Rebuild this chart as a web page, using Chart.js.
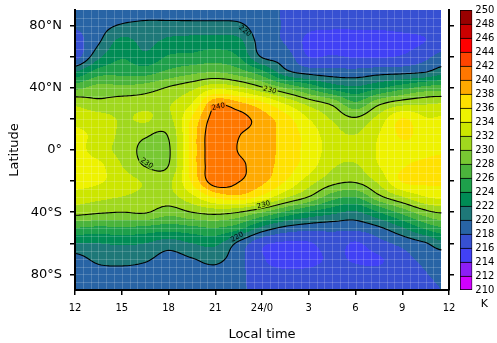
<!DOCTYPE html>
<html>
<head>
<meta charset="utf-8">
<script src="https://cdn.jsdelivr.net/npm/chart.js@4.4.1/dist/chart.umd.min.js"></script>
<style>
    body { margin: 0; background: #fff; }
    #wrap { position: relative; width: 497px; height: 343px; }
    #mainChart { position: absolute; left: 0; top: 0; }
    #barChart { position: absolute; left: 452px; top: 0; }
</style>
</head>
<body>
<div id="wrap">
    <canvas id="mainChart" width="497" height="343"></canvas>
    <canvas id="barChart" width="45" height="343"></canvas>
</div>
<script>
// --- Data ---
const localTimes = [12, 13.5, 15, 16.5, 18, 19.5, 21, 22.5, 24, 25.5, 27, 28.5, 30, 31.5, 33, 34.5, 35.5];
const latitudes = [90, 80, 70, 60, 50, 40, 30, 20, 10, 0, -10, -20, -30, -40, -50, -60, -70, -80, -90];

// temperature (K), one row per latitude, one column per local time
const temperature = [
    [218.8, 218.8, 219.0, 219.0, 219.0, 219.0, 219.0, 219.0, 218.6, 217.8, 217.0, 217.0, 217.0, 217.0, 217.0, 217.1, 217.2],
    [218.2, 219.2, 220.2, 220.5, 220.6, 220.6, 220.6, 220.4, 218.8, 217.8, 216.5, 216.3, 216.3, 216.3, 216.5, 216.7, 217.0],
    [217.2, 219.7, 222.6, 221.4, 222.5, 222.8, 223.0, 222.5, 219.0, 217.8, 215.5, 215.2, 215.2, 215.3, 215.5, 216.0, 217.2],
    [217.2, 221.5, 223.8, 222.5, 224.2, 224.5, 225.0, 224.0, 219.8, 219.0, 216.0, 216.2, 215.8, 215.8, 216.2, 217.5, 218.6],
    [222.1, 225.0, 225.4, 225.2, 226.5, 227.5, 228.0, 227.0, 224.7, 220.7, 219.3, 218.9, 218.8, 219.3, 219.5, 220.0, 221.2],
    [227.4, 228.8, 228.5, 229.0, 230.2, 231.5, 233.5, 232.5, 230.3, 227.9, 225.6, 223.3, 222.4, 223.7, 225.3, 226.7, 227.0],
    [231.5, 230.5, 231.0, 231.2, 231.8, 234.0, 239.5, 238.5, 236.5, 233.8, 231.3, 229.5, 226.4, 229.5, 231.2, 231.7, 232.0],
    [233.5, 233.0, 231.8, 232.3, 231.5, 236.3, 241.0, 240.8, 239.0, 236.8, 234.0, 231.8, 230.3, 232.8, 236.1, 234.2, 234.3],
    [234.3, 233.5, 231.5, 230.3, 230.2, 236.8, 241.5, 240.1, 239.0, 237.2, 235.2, 232.8, 232.0, 234.0, 236.3, 235.2, 235.0],
    [234.8, 233.0, 231.3, 229.5, 229.7, 236.8, 241.5, 239.9, 239.0, 237.2, 235.3, 233.2, 232.7, 234.2, 235.3, 235.6, 235.8],
    [235.0, 234.5, 232.0, 229.9, 230.0, 236.8, 241.5, 240.4, 239.0, 237.0, 235.0, 232.3, 231.8, 234.0, 235.8, 236.3, 236.4],
    [235.0, 234.3, 233.0, 231.8, 231.5, 236.3, 241.3, 240.1, 238.5, 236.0, 233.0, 230.8, 230.3, 232.5, 236.2, 236.4, 236.4],
    [233.0, 232.5, 232.0, 231.5, 231.3, 233.5, 236.5, 237.5, 235.5, 232.5, 230.0, 227.0, 226.1, 229.5, 232.0, 234.0, 234.5],
    [230.8, 230.3, 230.0, 230.2, 228.8, 230.0, 230.7, 230.0, 228.1, 225.7, 223.8, 222.6, 221.7, 224.0, 226.7, 229.3, 230.2],
    [226.0, 225.6, 225.8, 225.5, 225.0, 225.5, 226.0, 224.8, 221.5, 219.5, 218.8, 218.6, 218.6, 219.7, 221.9, 224.5, 225.8],
    [221.9, 222.0, 222.3, 222.0, 221.0, 222.0, 222.5, 219.5, 216.5, 215.7, 215.8, 217.0, 215.8, 217.3, 218.6, 219.8, 221.3],
    [219.3, 220.5, 220.7, 220.3, 219.3, 219.9, 220.6, 218.7, 216.2, 215.3, 215.4, 216.3, 215.8, 215.8, 217.3, 218.5, 218.8],
    [218.7, 219.2, 219.3, 219.2, 218.9, 219.0, 219.2, 218.5, 216.8, 216.4, 216.5, 216.8, 216.6, 216.6, 217.0, 217.9, 218.3],
    [218.5, 218.8, 218.8, 218.8, 218.7, 218.8, 218.9, 218.4, 217.2, 217.0, 217.0, 217.0, 217.0, 217.0, 217.2, 217.6, 218.0]
];

const levels = [210, 212, 214, 216, 218, 220, 222, 224, 226, 228, 230, 232, 234, 236, 238, 240, 242, 244, 246, 248, 250];
const levelColors = [
    '#d200ff', '#8c1ef5', '#4141f5', '#3750d2', '#2864a5', '#1e7878', '#008c55', '#1ea04b', '#4bb43c', '#78c832',
    '#a0d81e', '#cce600', '#eef200', '#ffe100', '#ffaa00', '#ff7700', '#ff4400', '#ff0000', '#cc0000', '#990000'
];
const contourLevels = [220, 230, 240];

const timeTicks = [12, 15, 18, 21, 24, 27, 30, 33, 36];
const timeTickLabels = ['12', '15', '18', '21', '24/0', '3', '6', '9', '12'];
const latTicks = [-80, -60, -40, -20, 0, 20, 40, 60, 80];
const latTickLabels = ['80°S', '', '40°S', '', '0°', '', '40°N', '', '80°N'];

// where the contour values are written (local time, latitude, angle)
const contourLabels = [
    { text: '220', t: 22.9, lat: 76.5, angle: 40 },
    { text: '230', t: 24.5, lat: 38.5, angle: 15 },
    { text: '240', t: 21.2, lat: 27.8, angle: -12 },
    { text: '230', t: 16.6, lat: -8.5, angle: 35 },
    { text: '230', t: 24.1, lat: -35.3, angle: -15 },
    { text: '220', t: 22.4, lat: -56, angle: -30 }
];

Chart.defaults.font.family = "'DejaVu Sans', sans-serif";
Chart.defaults.color = '#000';

// --- Helpers ---
function hexToRgb(hex) {
    const n = parseInt(hex.slice(1), 16);
    return [(n >> 16) & 255, (n >> 8) & 255, n & 255];
}
const levelRgb = levelColors.map(hexToRgb);

function bandIndex(v) {
    let k = Math.floor((v - levels[0]) / 2);
    if (k < 0) k = 0;
    if (k > levelColors.length - 1) k = levelColors.length - 1;
    return k;
}

function cr(p0, p1, p2, p3, s) {
    return p1 + 0.5 * s * (p2 - p0 + s * (2 * p0 - 5 * p1 + 4 * p2 - p3 + s * (3 * (p1 - p2) + p3 - p0)));
}

// smooth value of the grid at (local time, latitude)
function fieldAt(t, lat) {
    const last = localTimes.length - 1;
    if (t < localTimes[0] - 1e-6 || t > localTimes[last] + 1e-6) return null;
    t = Math.min(Math.max(t, localTimes[0]), localTimes[last]);
    let i = 0;
    while (i < last - 1 && t > localTimes[i + 1]) i++;
    const fx = (t - localTimes[i]) / (localTimes[i + 1] - localTimes[i]);
    const w = Math.min(Math.max((latitudes[0] - lat) / 10, 0), latitudes.length - 1);
    let j = Math.min(Math.floor(w), latitudes.length - 2);
    const fy = w - j;
    const col = c => Math.min(Math.max(c, 0), last);
    const row = r => Math.min(Math.max(r, 0), latitudes.length - 1);
    const rows = [];
    for (let r = j - 1; r <= j + 2; r++) {
        const R = temperature[row(r)];
        rows.push(cr(R[col(i - 1)], R[col(i)], R[col(i + 1)], R[col(i + 2)], fx));
    }
    return cr(rows[0], rows[1], rows[2], rows[3], fy);
}

// keep the plot box where the reference has it
function noScalePadding(scale) {
    scale.paddingTop = 0;
    scale.paddingBottom = 0;
    scale.paddingLeft = 0;
    scale.paddingRight = 0;
}

// --- Contour plot plugin ---
function drawField(chart) {
    const { ctx, chartArea: area, scales: { x, y } } = chart;
    const left = Math.round(area.left), top = Math.round(area.top);
    const w = Math.round(area.right) - left, h = Math.round(area.bottom) - top;
    const off = document.createElement('canvas');
    off.width = w; off.height = h;
    const octx = off.getContext('2d');
    const img = octx.createImageData(w, h);
    for (let py = 0; py < h; py++) {
        const lat = y.getValueForPixel(top + py + 0.5);
        for (let px = 0; px < w; px++) {
            const v = fieldAt(x.getValueForPixel(left + px + 0.5), lat);
            if (v === null) continue;
            const c = levelRgb[bandIndex(v)];
            const k = (py * w + px) * 4;
            img.data[k] = c[0]; img.data[k + 1] = c[1]; img.data[k + 2] = c[2]; img.data[k + 3] = 255;
        }
    }
    octx.putImageData(img, 0, 0);
    ctx.drawImage(off, left, top);
}

function drawFaintGrid(chart) {
    const { ctx, chartArea: area, scales: { x, y } } = chart;
    const xEnd = x.getPixelForValue(localTimes[localTimes.length - 1]);
    ctx.save();
    ctx.strokeStyle = 'rgba(255,255,255,0.18)';
    ctx.lineWidth = 1;
    ctx.beginPath();
    for (let t = localTimes[0] + 0.5; t < localTimes[localTimes.length - 1]; t += 0.5) {
        const px = Math.round(x.getPixelForValue(t)) + 0.5;
        ctx.moveTo(px, area.top); ctx.lineTo(px, area.bottom);
    }
    for (let lat = -85; lat < 90; lat += 5) {
        const py = Math.round(y.getPixelForValue(lat)) + 0.5;
        ctx.moveTo(area.left, py); ctx.lineTo(xEnd, py);
    }
    ctx.stroke();
    ctx.restore();
}

function drawContours(chart) {
    const { ctx, chartArea: area, scales: { x, y } } = chart;
    const step = 2;
    const x0 = area.left, y0 = area.top;
    const x1 = x.getPixelForValue(localTimes[localTimes.length - 1]);
    const nx = Math.floor((x1 - x0) / step) + 1;
    const ny = Math.floor((area.bottom - y0) / step) + 1;
    const vals = [];
    for (let j = 0; j < ny; j++) {
        const lat = y.getValueForPixel(y0 + j * step);
        const r = [];
        for (let i = 0; i < nx; i++) r.push(fieldAt(x.getValueForPixel(x0 + i * step), lat));
        vals.push(r);
    }
    ctx.save();
    ctx.strokeStyle = '#000';
    ctx.lineWidth = 1.1;
    ctx.lineCap = 'round';
    contourLevels.forEach(L => {
        ctx.beginPath();
        for (let j = 0; j < ny - 1; j++) {
            for (let i = 0; i < nx - 1; i++) {
                const a = vals[j][i], b = vals[j][i + 1], c = vals[j + 1][i + 1], d = vals[j + 1][i];
                const X = x0 + i * step, Y = y0 + j * step;
                const pts = [];
                if ((a < L) !== (b < L)) pts.push([X + step * (L - a) / (b - a), Y]);
                if ((b < L) !== (c < L)) pts.push([X + step, Y + step * (L - b) / (c - b)]);
                if ((c < L) !== (d < L)) pts.push([X + step * (L - d) / (c - d), Y + step]);
                if ((d < L) !== (a < L)) pts.push([X, Y + step * (L - a) / (d - a)]);
                for (let p = 0; p + 1 < pts.length; p += 2) {
                    ctx.moveTo(pts[p][0], pts[p][1]);
                    ctx.lineTo(pts[p + 1][0], pts[p + 1][1]);
                }
            }
        }
        ctx.stroke();
    });
    ctx.restore();
}

function drawContourLabels(chart) {
    const { ctx, scales: { x, y } } = chart;
    ctx.save();
    ctx.font = "7px 'DejaVu Sans', sans-serif";
    ctx.textAlign = 'center';
    ctx.textBaseline = 'middle';
    contourLabels.forEach(lb => {
        const px = x.getPixelForValue(lb.t), py = y.getPixelForValue(lb.lat);
        const v = fieldAt(lb.t, lb.lat);
        const tw = ctx.measureText(lb.text).width;
        ctx.save();
        ctx.translate(px, py);
        ctx.rotate(lb.angle * Math.PI / 180);
        ctx.fillStyle = levelColors[bandIndex(v)];
        ctx.fillRect(-tw / 2 - 1, -3, tw + 2, 6);
        ctx.fillStyle = '#000';
        ctx.fillText(lb.text, 0, 0);
        ctx.restore();
    });
    ctx.restore();
}

const contourPlugin = {
    id: 'contourPlot',
    beforeDraw(chart) {
        drawField(chart);
        drawFaintGrid(chart);
        drawContours(chart);
        drawContourLabels(chart);
    }
};

// --- Main chart ---
const setLatTicks = axis => { axis.ticks = latTicks.map(v => ({ value: v })); };

new Chart(document.getElementById('mainChart'), {
    type: 'scatter',
    data: { datasets: [{ data: [], pointRadius: 0 }] },
    options: {
        responsive: false,
        animation: false,
        events: [],
        layout: { padding: { top: 10, right: 0, bottom: 0, left: 0 } },
        plugins: { legend: { display: false }, tooltip: { enabled: false } },
        scales: {
            x: {
                type: 'linear', position: 'bottom', min: 12, max: 36,
                afterBuildTicks: axis => { axis.ticks = timeTicks.map(v => ({ value: v })); },
                afterFit: scale => { scale.height = 53; noScalePadding(scale); },
                ticks: {
                    callback: (v, i) => timeTickLabels[i],
                    font: { size: 10 }, padding: 7, maxRotation: 0, autoSkip: false
                },
                grid: { drawOnChartArea: false, tickLength: 5, color: '#000', lineWidth: 1.5 },
                border: { color: '#000', width: 2 },
                title: { display: true, text: 'Local time', font: { size: 13 }, padding: { top: 0, bottom: 1 } }
            },
            y: {
                type: 'linear', position: 'left', min: -90, max: 90,
                afterBuildTicks: setLatTicks,
                afterFit: scale => { scale.width = 75; noScalePadding(scale); },
                ticks: { callback: (v, i) => latTickLabels[i], font: { size: 13 }, padding: 8, autoSkip: false },
                grid: { drawOnChartArea: false, tickLength: 5, color: '#000', lineWidth: 1.5 },
                border: { color: '#000', width: 2 },
                title: { display: true, text: 'Latitude', font: { size: 13 }, padding: { top: 7, bottom: 0 } }
            },
            y2: {
                type: 'linear', position: 'right', min: -90, max: 90,
                afterBuildTicks: setLatTicks,
                afterFit: scale => { scale.width = 48; noScalePadding(scale); },
                ticks: { callback: () => '', autoSkip: false },
                grid: { drawOnChartArea: false, tickLength: 5, color: '#000', lineWidth: 1.5 },
                border: { color: '#000', width: 2 }
            }
        }
    },
    plugins: [contourPlugin]
});

// --- Colour bar ---
const unitLabel = {
    id: 'unitLabel',
    afterDraw(chart) {
        const { ctx, chartArea: area } = chart;
        ctx.save();
        ctx.font = "11px 'DejaVu Sans', sans-serif";
        ctx.fillStyle = '#000';
        ctx.textAlign = 'center';
        ctx.textBaseline = 'middle';
        ctx.fillText('K', area.right + 12, area.bottom + 14);
        ctx.restore();
    }
};

new Chart(document.getElementById('barChart'), {
    type: 'bar',
    data: {
        labels: ['K'],
        datasets: levelColors.map((c, k) => ({
            data: [[levels[k], levels[k + 1]]],
            backgroundColor: c,
            borderColor: '#000',
            borderWidth: { top: 1, left: 1, right: 1, bottom: k === 0 ? 1 : 0 },
            borderSkipped: false,
            grouped: false,
            barPercentage: 1,
            categoryPercentage: 1
        }))
    },
    options: {
        responsive: false,
        animation: false,
        events: [],
        layout: { padding: { top: 10, bottom: 53, left: 8, right: 0 } },
        plugins: { legend: { display: false }, tooltip: { enabled: false } },
        scales: {
            x: { display: false },
            y: {
                position: 'right', min: 210, max: 250,
                afterBuildTicks: axis => { axis.ticks = levels.map(v => ({ value: v })); },
                afterFit: scale => { scale.width = 24.7; noScalePadding(scale); },
                ticks: { font: { size: 10 }, padding: 3, autoSkip: false },
                grid: { display: false, drawTicks: false },
                border: { display: false }
            }
        }
    },
    plugins: [unitLabel]
});
</script>
</body>
</html>
